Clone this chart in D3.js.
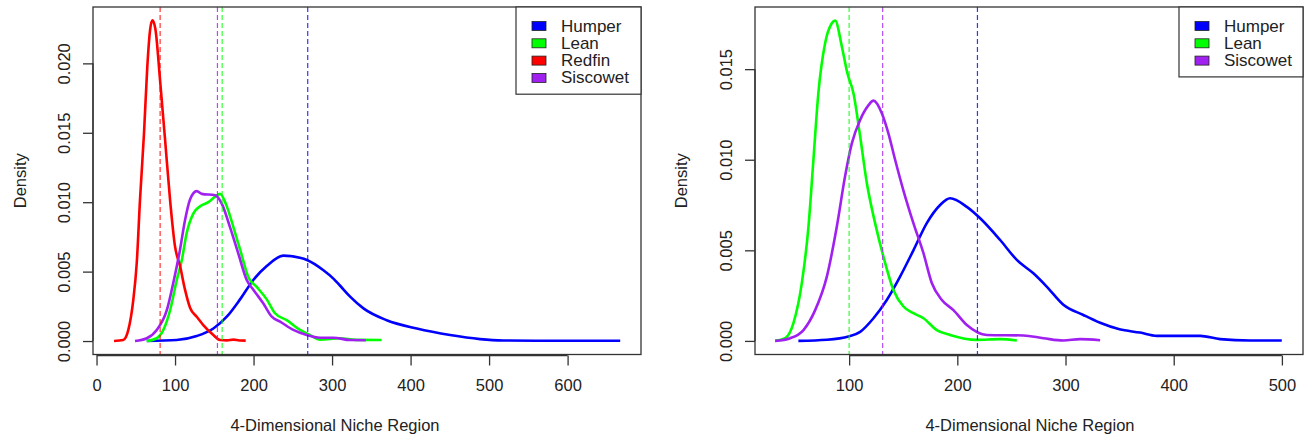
<!DOCTYPE html>
<html>
<head>
<meta charset="utf-8">
<script src="https://cdn.jsdelivr.net/npm/d3@7"></script>
<style>
  body { margin: 0; background: #fff; }
  svg { display: block; font-family: "Liberation Sans", Arial, sans-serif; }
</style>
</head>
<body>
<svg id="chart" width="1311" height="443"></svg>
<script>
// density curves, [niche region, density]
var leftHumper = [[64,0],[102,0.00007],[127.6,0.00036],[148.8,0.0009],[165.9,0.00175],[182.8,0.003],[199.7,0.0044],
  [216.8,0.0054],[238,0.00615],[259,0.006],[268,0.00584],[289,0.0051],[301.7,0.0045],[310,0.004],[323,0.0032],[340,0.00235],
  [369.6,0.0015],[407.9,0.0009],[450.3,0.00043],[488.5,0.00014],[518,0.00004],[560,0.00002],[667,0.00002]];
var leftLean = [[63.9,0],[76.7,0.0002],[85.1,0.0008],[93.6,0.0022],[102.2,0.0044],[108.5,0.0058],[114.9,0.0078],[123.4,0.0092],
  [131.8,0.0097],[142.4,0.01],[151,0.0104],[157.3,0.0106],[165.9,0.0097],[174.3,0.0082],[182.8,0.0066],[193.4,0.0046],
  [204,0.0039],[216.8,0.003],[227.4,0.002],[242.3,0.0015],[259.2,0.0008],[272,0.00043],[284.7,0.0001],[310,0.0002],
  [330,0.00008],[363,0.00007]];
var leftRedfin = [[22.3,0],[34,0.00007],[40.5,0.0008],[46.9,0.003],[51.2,0.0056],[55.4,0.0102],[60.5,0.015],[64.7,0.0198],
  [68.2,0.0224],[71.1,0.0231],[74.9,0.0225],[80.9,0.0188],[87.3,0.0145],[93.6,0.0102],[100,0.0068],[106.4,0.0054],
  [112.7,0.0037],[119.1,0.0024],[127.6,0.00175],[136,0.00115],[148.8,0.00043],[157.3,0.00007],[166,0.00005],
  [174.3,0.0001],[182,0.00004],[190,0.00003]];
var leftSiscowet = [[49,0],[64,0.0002],[76.7,0.0008],[89.4,0.0022],[97.8,0.0042],[106.4,0.0066],[112.7,0.0087],[119.1,0.0102],
  [127.6,0.0108],[134,0.0106],[151,0.0105],[159.5,0.0099],[170,0.0082],[180.6,0.0063],[191.3,0.0044],[199.7,0.0037],
  [212.5,0.0027],[223.2,0.00175],[233.8,0.0014],[250.7,0.0008],[267.8,0.00043],[284.7,0.00024],[301.7,0.00024],
  [322.9,0.00007],[343,0.00006]];

var rightHumper = [[53.1,0],[79.4,0.00006],[99.4,0.00024],[110.2,0.0005],[122.5,0.00125],[134.8,0.00226],[147.1,0.00355],
  [159.4,0.005],[171.8,0.0065],[184.1,0.0075],[193.3,0.00787],[208.8,0.0074],[221.1,0.00677],[239.6,0.00557],[255,0.00447],
  [270.3,0.00373],[282.6,0.003],[298,0.002],[316.5,0.00143],[332,0.001],[349.9,0.00064],[368.9,0.00046],[384.4,0.00028],
  [424.4,0.00028],[442.9,0.0001],[470.6,0.00002],[499.9,0.00002]];
var rightLean = [[31.6,0],[40.9,0.00015],[48.6,0.001],[56.3,0.0032],[62.4,0.0063],[67,0.01],[71.6,0.0137],[77.8,0.01643],
  [84,0.01753],[87.1,0.01768],[93.3,0.01624],[98.4,0.01477],[104,0.01367],[110.2,0.01128],[116.4,0.0087],[124,0.0065],
  [131.7,0.00465],[141,0.0028],[150.2,0.0019],[159.4,0.00153],[168.7,0.00125],[181,0.0006],[193.3,0.00033],[218,0.00006],
  [239.6,0.0001],[255,0.00002]];
var rightSiscowet = [[31.6,0],[45.5,0.00015],[57.8,0.0006],[68.6,0.0017],[79.4,0.00355],[88.6,0.0063],[96.3,0.0091],
  [102.5,0.0109],[110.2,0.0122],[117.8,0.013],[122.5,0.01326],[130.2,0.01257],[136.3,0.01146],[142.5,0.01],[150.2,0.0083],
  [159.4,0.0065],[168.7,0.00484],[176.4,0.0032],[185.7,0.00226],[196.4,0.0017],[208.8,0.00088],[227.3,0.00033],
  [261.1,0.0003],[279.6,0.00015],[298,0.00002],[313.5,0.0001],[332,0.00004]];

// dashed mean lines
var leftMeans = { Humper: 269, Lean: 160, Redfin: 81, Siscowet: 154 };
var rightMeans = { Humper: 218.6, Lean: 100, Siscowet: 131 };

var leftXTicks = [0, 100, 200, 300, 400, 500, 600];
var leftYTicks = [0, 0.005, 0.010, 0.015, 0.020];
var rightXTicks = [100, 200, 300, 400, 500];
var rightYTicks = [0, 0.005, 0.010, 0.015];

var colors = { Humper: "#0000ff", Lean: "#00ff00", Redfin: "#ff0000", Siscowet: "#a020f0" };

var panels = [
  { box: [93, 7, 641, 354.5], xDomain: [-4.5, 693.5], yDomain: [-0.00097, 0.02406],
    series: { Humper: leftHumper, Lean: leftLean, Redfin: leftRedfin, Siscowet: leftSiscowet },
    means: leftMeans, xTicks: leftXTicks, yTicks: leftYTicks, xLabelX: 335, yLabelX: 20, legendLeft: 516 },
  { box: [755, 7, 1303, 354.5], xDomain: [13, 519.5], yDomain: [-0.00075, 0.01843],
    series: { Humper: rightHumper, Lean: rightLean, Siscowet: rightSiscowet },
    means: rightMeans, xTicks: rightXTicks, yTicks: rightYTicks, xLabelX: 1030, yLabelX: 681, legendLeft: 1179 }
];

var svg = d3.select("#chart");
var ink = "#222";

panels.forEach(function(p) {
  var x0 = p.box[0], y0 = p.box[1], x1 = p.box[2], y1 = p.box[3];
  var x = d3.scaleLinear().domain(p.xDomain).range([x0, x1]);
  var y = d3.scaleLinear().domain(p.yDomain).range([y1, y0]);
  var g = svg.append("g");
  var names = Object.keys(p.series);

  var line = d3.line()
      .x(function(d) { return x(d[0]); })
      .y(function(d) { return y(d[1]); })
      .curve(d3.curveMonotoneX);

  names.forEach(function(n) {
    g.append("path")
        .attr("d", line(p.series[n]))
        .attr("fill", "none")
        .attr("stroke", colors[n])
        .attr("stroke-width", 2.6)
        .attr("stroke-linejoin", "round");
  });

  names.forEach(function(n) {
    g.append("line")
        .attr("x1", x(p.means[n])).attr("x2", x(p.means[n]))
        .attr("y1", y0).attr("y2", y1)
        .attr("stroke", colors[n])
        .attr("stroke-opacity", 0.8)
        .attr("stroke-width", 1.2)
        .attr("stroke-dasharray", "5,3");
  });

  // box
  g.append("rect")
      .attr("x", x0).attr("y", y0)
      .attr("width", x1 - x0).attr("height", y1 - y0)
      .attr("fill", "none").attr("stroke", "#333").attr("stroke-width", 1.3);

  // x axis
  var xa = g.append("g").attr("transform", "translate(0," + (y1 + 1) + ")")
      .call(d3.axisBottom(x).tickValues(p.xTicks).tickSize(10).tickPadding(14).tickFormat(d3.format("d")));
  xa.select(".domain").attr("stroke", "#333").attr("stroke-width", 1.3)
      .attr("d", "M" + x(p.xTicks[0]) + ",0H" + x(p.xTicks[p.xTicks.length - 1]));
  xa.selectAll(".tick line").attr("stroke", "#333").attr("stroke-width", 1.3);
  xa.selectAll("text").attr("font-size", 16.5).attr("fill", ink).attr("font-family", null);

  // y axis, labels turned like R
  var ya = g.append("g").attr("transform", "translate(" + x0 + ",0)")
      .call(d3.axisLeft(y).tickValues(p.yTicks).tickSize(10).tickFormat(d3.format(".3f")));
  ya.select(".domain").attr("stroke", "#333").attr("stroke-width", 1.3)
      .attr("d", "M0," + y(p.yTicks[0]) + "V" + y(p.yTicks[p.yTicks.length - 1]));
  ya.selectAll(".tick line").attr("stroke", "#333").attr("stroke-width", 1.3);
  ya.selectAll("text")
      .attr("font-size", 16.5).attr("fill", ink).attr("font-family", null)
      .attr("x", null).attr("dy", null)
      .attr("text-anchor", "middle")
      .attr("transform", "translate(-29,0) rotate(-90)")
      .attr("dominant-baseline", "central");

  g.append("text")
      .attr("x", p.xLabelX).attr("y", 431)
      .attr("text-anchor", "middle").attr("font-size", 16.5).attr("fill", ink)
      .text("4-Dimensional Niche Region");
  g.append("text")
      .attr("transform", "translate(" + (p.yLabelX + 6) + "," + ((y0 + y1) / 2) + ") rotate(-90)")
      .attr("text-anchor", "middle").attr("font-size", 16.5).attr("fill", ink)
      .text("Density");

  // legend
  var rowH = 17.3;
  var lg = g.append("g");
  lg.append("rect")
      .attr("x", p.legendLeft).attr("y", y0)
      .attr("width", x1 - p.legendLeft).attr("height", names.length * rowH + 18)
      .attr("fill", "#fff").attr("stroke", "#333").attr("stroke-width", 1.2);
  names.forEach(function(n, i) {
    var cy = y0 + 19 + i * rowH;
    lg.append("rect")
        .attr("x", p.legendLeft + 16).attr("y", cy - 4.5)
        .attr("width", 14).attr("height", 9)
        .attr("fill", colors[n]).attr("stroke", "#222").attr("stroke-width", 0.8);
    lg.append("text")
        .attr("x", p.legendLeft + 45).attr("y", cy)
        .attr("dominant-baseline", "central")
        .attr("font-size", 17).attr("fill", ink)
        .text(n);
  });
});
</script>
</body>
</html>
